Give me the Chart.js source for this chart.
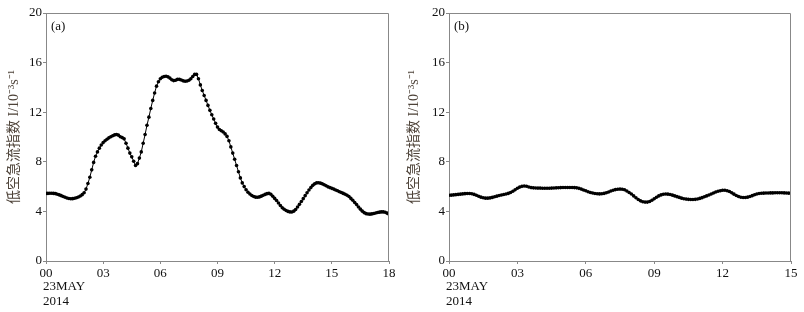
<!DOCTYPE html>
<html>
<head>
<meta charset="utf-8">
<script src="https://cdn.jsdelivr.net/npm/chart.js@4.4.0/dist/chart.umd.min.js"></script>
<style>
	body { margin: 0; background: #fff; }
	#wrap { position: relative; width: 804px; height: 312px; }
	canvas { position: absolute; top: 0; }
</style>
</head>
<body>
<div id="wrap">
	<canvas id="chartA" width="400" height="312" style="left:0"></canvas>
	<canvas id="chartB" width="404" height="312" style="left:400px"></canvas>
</div>
<script>
// tick labels
const yTicks = [0, 4, 8, 12, 16, 20];
const xTicksA = [0, 3, 6, 9, 12, 15, 18];
const xTicksB = [0, 3, 6, 9, 12, 15];
const dateLines = ["23MAY", "2014"];
const yTitle = "低空急流指数 I/10⁻³s⁻¹";
const stepHours = 0.1; // one value every 6 minutes

// (a) low-level jet index, 00-18 h
const indexA = [
	5.45, 5.45, 5.46, 5.46, 5.45, 5.43, 5.38, 5.33, 5.27, 5.2,
	5.14, 5.08, 5.04, 5.02, 5.03, 5.06, 5.1, 5.16, 5.24, 5.35,
	5.5, 5.8, 6.25, 6.75, 7.35, 7.95, 8.45, 8.8, 9.1, 9.35,
	9.55, 9.7, 9.82, 9.93, 10.02, 10.1, 10.17, 10.2, 10.15, 10.02,
	9.95, 9.85, 9.5, 9.1, 8.7, 8.4, 8.05, 7.7, 7.85, 8.3,
	8.8, 9.5, 10.2, 10.95, 11.6, 12.3, 12.95, 13.55, 14.1, 14.45,
	14.7, 14.82, 14.88, 14.9, 14.85, 14.75, 14.62, 14.55, 14.58, 14.65,
	14.65, 14.6, 14.53, 14.5, 14.52, 14.58, 14.7, 14.88, 15.05, 15.05,
	14.7, 14.2, 13.75, 13.35, 12.95, 12.55, 12.15, 11.8, 11.45, 11.1,
	10.8, 10.6, 10.5, 10.4, 10.25, 10.05, 9.7, 9.2, 8.7, 8.2,
	7.7, 7.2, 6.7, 6.3, 6.0, 5.75, 5.55, 5.4, 5.28, 5.2,
	5.15, 5.14, 5.17, 5.23, 5.3, 5.37, 5.43, 5.45, 5.38, 5.22,
	5.05, 4.88, 4.68, 4.48, 4.3, 4.17, 4.07, 4.0, 3.96, 3.95,
	4.02, 4.15, 4.35, 4.57, 4.8, 5.03, 5.27, 5.5, 5.72, 5.92,
	6.1, 6.22, 6.3, 6.31, 6.28, 6.22, 6.15, 6.07, 5.98, 5.92,
	5.86, 5.8, 5.73, 5.66, 5.59, 5.52, 5.45, 5.38, 5.3, 5.2,
	5.05, 4.9, 4.72, 4.55, 4.36, 4.18, 4.02, 3.9, 3.82, 3.79,
	3.78, 3.8, 3.83, 3.87, 3.91, 3.94, 3.96, 3.96, 3.93, 3.86,
	3.78
];

// (b) low-level jet index, 00-15 h
const indexB = [
	5.3, 5.31, 5.33, 5.35, 5.37, 5.39, 5.41, 5.43, 5.44, 5.44,
	5.42, 5.37, 5.3, 5.22, 5.15, 5.1, 5.07, 5.07, 5.09, 5.13,
	5.18, 5.23, 5.28, 5.32, 5.36, 5.4, 5.45, 5.52, 5.62, 5.75,
	5.87, 5.96, 6.02, 6.05, 6.03, 5.97, 5.92, 5.9, 5.89, 5.88,
	5.88, 5.87, 5.87, 5.87, 5.87, 5.88, 5.89, 5.9, 5.91, 5.92,
	5.93, 5.93, 5.93, 5.93, 5.93, 5.92, 5.9, 5.86, 5.8, 5.73,
	5.66, 5.59, 5.53, 5.48, 5.44, 5.42, 5.41, 5.42, 5.45, 5.5,
	5.57, 5.64, 5.71, 5.76, 5.79, 5.8, 5.79, 5.74, 5.65, 5.53,
	5.4, 5.25, 5.1, 4.96, 4.85, 4.78, 4.75, 4.75, 4.8, 4.9,
	5.02, 5.14, 5.25, 5.33, 5.38, 5.4, 5.39, 5.36, 5.31, 5.25,
	5.19, 5.13, 5.07, 5.02, 4.99, 4.97, 4.96, 4.96, 4.97, 5.0,
	5.05, 5.11, 5.18, 5.25, 5.32, 5.4, 5.48, 5.56, 5.62, 5.67,
	5.7, 5.7, 5.67, 5.6, 5.5, 5.39, 5.28, 5.2, 5.14, 5.12,
	5.12, 5.15, 5.2, 5.27, 5.34, 5.4, 5.44, 5.46, 5.47, 5.48,
	5.48, 5.49, 5.49, 5.5, 5.5, 5.5, 5.5, 5.49, 5.48, 5.47,
	5.46
];

const serif = "'Liberation Serif', 'Times New Roman', serif";
const axisGray = "#888";

// top/right frame, panel letter and the date under the first tick
const panelPlugin = {
	id: "panel",
	afterDraw(chart, args, opts) {
		const { ctx, chartArea: a, scales } = chart;
		ctx.save();
		ctx.strokeStyle = axisGray;
		ctx.lineWidth = 1;
		ctx.beginPath();
		ctx.moveTo(a.left, a.top + 0.5);
		ctx.lineTo(a.right - 0.5, a.top + 0.5);
		ctx.lineTo(a.right - 0.5, a.bottom);
		ctx.stroke();

		ctx.fillStyle = "#111";
		ctx.font = "13px " + serif;
		ctx.textBaseline = "middle";
		ctx.textAlign = "left";
		ctx.fillText(opts.letter, a.left + 5, a.top + 14);

		const x0 = scales.x.getPixelForValue(0) - 3;
		dateLines.forEach((t, i) => ctx.fillText(t, x0, 287 + i * 15));
		ctx.restore();
	},
};

function makeChart(id, values, xTicks, letter, yWidth, rightPad) {
	const points = values.map((v, i) => ({ x: i * stepHours, y: v }));
	return new Chart(document.getElementById(id), {
		type: "line",
		data: {
			datasets: [
				{
					data: points,
					borderColor: "#000",
					borderWidth: 1,
					pointRadius: 1.8,
					pointBackgroundColor: "#000",
					pointBorderWidth: 0,
					tension: 0,
				},
			],
		},
		options: {
			responsive: false,
			animation: false,
			devicePixelRatio: 1,
			layout: { padding: { top: 13, right: rightPad, bottom: 0, left: 0 } },
			plugins: {
				legend: { display: false },
				tooltip: { enabled: false },
				panel: { letter: letter },
			},
			scales: {
				x: {
					type: "linear",
					min: xTicks[0],
					max: xTicks[xTicks.length - 1],
					afterBuildTicks: (s) => { s.ticks = xTicks.map((v) => ({ value: v })); },
					afterFit: (s) => { s.height = 51; },
					ticks: {
						color: "#111",
						font: { family: serif, size: 13 },
						padding: 2,
						maxRotation: 0,
						callback: (v) => String(v).padStart(2, "0"),
					},
					grid: { drawOnChartArea: false, tickLength: 3, color: axisGray },
					border: { color: axisGray },
				},
				y: {
					min: 0,
					max: 20,
					afterBuildTicks: (s) => { s.ticks = yTicks.map((v) => ({ value: v })); },
					afterFit: (s) => { s.width = yWidth; },
					ticks: {
						color: "#111",
						font: { family: serif, size: 13 },
						padding: 1,
					},
					grid: { drawOnChartArea: false, tickLength: 3, color: axisGray },
					border: { color: axisGray },
					title: {
						display: true,
						text: yTitle,
						color: "#4d4238",
						font: { family: serif + ", 'Noto Sans CJK SC'", size: 14 },
						padding: { top: 6, bottom: 0 },
					},
				},
			},
		},
		plugins: [panelPlugin],
	});
}

makeChart("chartA", indexA, xTicksA, "(a)", 46, 11);
makeChart("chartB", indexB, xTicksB, "(b)", 49, 13);
</script>
</body>
</html>
